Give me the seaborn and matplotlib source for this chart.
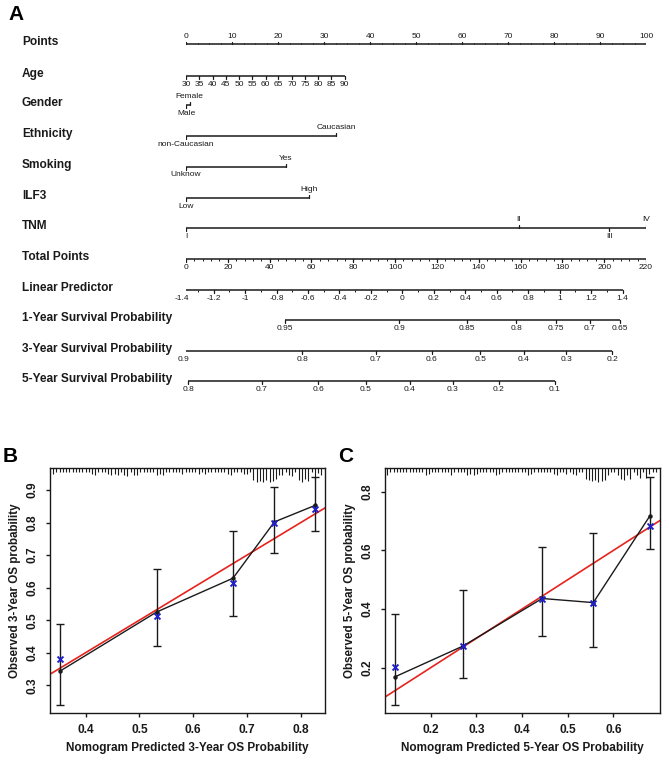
import numpy as np
import matplotlib
matplotlib.use("Agg")
import matplotlib.pyplot as plt
from matplotlib.transforms import blended_transform_factory
import seaborn as sns

# ---------------- panel A: nomogram values ----------------
points_ticks = [0, 10, 20, 30, 40, 50, 60, 70, 80, 90, 100]

age_labels = [30, 35, 40, 45, 50, 55, 60, 65, 70, 75, 80, 85, 90]
age_points = [0, 2.9, 5.8, 8.6, 11.5, 14.4, 17.3, 20.1, 23.0, 25.9, 28.8, 31.6, 34.5]

gender_labels = ["Male", "Female"]
gender_points = [0, 0.8]
ethnicity_labels = ["non-Caucasian", "Caucasian"]
ethnicity_points = [0, 32.6]
smoking_labels = ["Unknow", "Yes"]
smoking_points = [0, 21.7]
ilf3_labels = ["Low", "High"]
ilf3_points = [0, 26.7]
tnm_labels = ["I", "II", "III", "IV"]
tnm_points = [0, 72.3, 92.0, 100]

total_ticks = [0, 20, 40, 60, 80, 100, 120, 140, 160, 180, 200, 220]
lp_labels = ["-1.4", "-1.2", "-1", "-0.8", "-0.6", "-0.4", "-0.2", "0",
             "0.2", "0.4", "0.6", "0.8", "1", "1.2", "1.4"]
lp_total = [-1.9, 13.2, 28.2, 43.3, 58.3, 73.4, 88.4, 103.5,
            118.5, 133.6, 148.6, 163.7, 178.7, 193.8, 208.8]
surv1_labels = ["0.95", "0.9", "0.85", "0.8", "0.75", "0.7", "0.65"]
surv1_total = [47.3, 101.9, 134.3, 158.0, 177.0, 193.2, 207.4]
surv3_labels = ["0.9", "0.8", "0.7", "0.6", "0.5", "0.4", "0.3", "0.2"]
surv3_total = [-1.3, 55.6, 90.7, 117.6, 140.7, 161.6, 181.8, 203.8]
surv5_labels = ["0.8", "0.7", "0.6", "0.5", "0.4", "0.3", "0.2", "0.1"]
surv5_total = [1.0, 36.3, 63.3, 86.1, 107.1, 127.6, 149.5, 176.4]

# ---------------- panels B / C: calibration values ----------------
b_pred = [0.353, 0.532, 0.674, 0.751, 0.827]
b_obs = [0.344, 0.525, 0.629, 0.802, 0.853]
b_corr = [0.382, 0.514, 0.615, 0.798, 0.841]
b_lo = [0.240, 0.420, 0.512, 0.706, 0.773]
b_hi = [0.488, 0.658, 0.773, 0.910, 0.939]

c_pred = [0.122, 0.271, 0.444, 0.556, 0.680]
c_obs = [0.169, 0.274, 0.436, 0.422, 0.718]
c_corr = [0.203, 0.274, 0.435, 0.422, 0.683]
c_lo = [0.074, 0.164, 0.308, 0.271, 0.605]
c_hi = [0.383, 0.465, 0.613, 0.661, 0.849]

# rug of predicted probabilities along the top (x, tick length in px)
b_rug_x = [0.340, 0.346, 0.352, 0.358, 0.364, 0.370, 0.376, 0.382, 0.388, 0.394,
           0.400, 0.406, 0.412, 0.418, 0.424, 0.430, 0.436, 0.442, 0.448, 0.454,
           0.460, 0.466, 0.472, 0.478, 0.484, 0.490, 0.496, 0.502, 0.508, 0.514,
           0.520, 0.526, 0.532, 0.538, 0.544, 0.550, 0.556, 0.562, 0.568, 0.574,
           0.580, 0.586, 0.592, 0.598, 0.604, 0.610, 0.616, 0.622, 0.628, 0.634,
           0.640, 0.646, 0.652, 0.658, 0.664, 0.670, 0.676, 0.682, 0.688, 0.694,
           0.700, 0.706, 0.712, 0.718, 0.724, 0.730, 0.736, 0.742, 0.748, 0.754,
           0.760, 0.766, 0.772, 0.778, 0.784, 0.790, 0.796, 0.802, 0.808, 0.814,
           0.820, 0.826, 0.832, 0.838]
b_rug_h = [6, 4, 4, 4, 4, 4, 4, 4, 4, 4,
           4, 4, 6, 7, 4, 4, 4, 6, 7, 6,
           7, 4, 7, 8, 4, 7, 7, 4, 4, 4,
           4, 4, 7, 6, 7, 4, 4, 4, 4, 4,
           6, 4, 4, 4, 4, 6, 4, 6, 4, 4,
           4, 4, 4, 4, 6, 7, 4, 4, 4, 6,
           6, 4, 12, 14, 13, 14, 12, 14, 13, 11,
           7, 7, 4, 7, 8, 4, 12, 14, 11, 13,
           4, 11, 5, 7]
c_rug_x = [0.105, 0.112, 0.119, 0.126, 0.133, 0.140, 0.147, 0.154, 0.161, 0.168,
           0.175, 0.182, 0.189, 0.196, 0.203, 0.210, 0.217, 0.224, 0.231, 0.238,
           0.245, 0.252, 0.259, 0.266, 0.273, 0.280, 0.287, 0.294, 0.301, 0.308,
           0.315, 0.322, 0.329, 0.336, 0.343, 0.350, 0.357, 0.364, 0.371, 0.378,
           0.385, 0.392, 0.399, 0.406, 0.413, 0.420, 0.427, 0.434, 0.441, 0.448,
           0.455, 0.462, 0.469, 0.476, 0.483, 0.490, 0.497, 0.504, 0.511, 0.518,
           0.525, 0.532, 0.539, 0.546, 0.553, 0.560, 0.567, 0.574, 0.581, 0.588,
           0.595, 0.602, 0.609, 0.616, 0.623, 0.630, 0.637, 0.644, 0.651, 0.658,
           0.665, 0.672, 0.679, 0.686, 0.693]
c_rug_h = [7, 4, 4, 4, 4, 4, 4, 4, 4, 4,
           4, 4, 7, 6, 4, 4, 4, 4, 4, 4,
           7, 4, 4, 4, 4, 7, 6, 7, 6, 4,
           4, 4, 4, 4, 7, 6, 4, 4, 4, 4,
           4, 4, 4, 4, 7, 6, 4, 4, 4, 4,
           4, 4, 6, 7, 4, 4, 6, 4, 6, 7,
           4, 4, 11, 12, 13, 12, 14, 13, 12, 7,
           4, 4, 7, 11, 12, 7, 11, 4, 7, 10,
           4, 10, 6, 4, 4]

W, H = 669, 766
INK = "#1a1a1a"

sns.set_theme(style="ticks")
plt.rcParams['font.family'] = ['Liberation Sans', 'DejaVu Sans']

fig = plt.figure(figsize=(W / 100, H / 100), dpi=100)

# nomogram axes: x in points (0..100), y in pixels from the top
axn = fig.add_axes([186 / W, 1 - 400 / H, 460 / W, 400 / H])
axn.set_xlim(0, 100)
axn.set_ylim(400, 0)
axn.axis("off")
title_tr = blended_transform_factory(fig.transFigure, axn.transData)

TICK_FS = 6.0


def scale_row(y, xs, labels, sides, title, minor=None):
    axn.plot([min(xs), max(xs)], [y, y], color=INK, lw=1.1, solid_capstyle="butt")
    for x, lab, s in zip(xs, labels, sides):
        d = -1 if s == "up" else 1
        axn.plot([x, x], [y, y + d * 2.8], color=INK, lw=0.9)
        axn.text(x, y + d * 8.3, str(lab), ha="center", va="center", fontsize=TICK_FS, color=INK)
    if minor is not None:
        d = -1 if sides[0] == "up" else 1
        axn.vlines(minor, y, y + d * 1.6, color=INK, lw=0.7)
    axn.text(22 / W, y - 2, title, transform=title_tr, ha="left", va="center",
             fontsize=8.6, fontweight="bold", color=INK)


def tp(vals):
    return [v * 100 / 220 for v in vals]


def alt(n):
    return ["down" if i % 2 == 0 else "up" for i in range(n)]


scale_row(44.3, points_ticks, points_ticks, ["up"] * len(points_ticks), "Points",
          minor=np.arange(0, 100.1, 2.5))
scale_row(76, age_points, age_labels, ["down"] * len(age_labels), "Age")
scale_row(105, gender_points, gender_labels, alt(2), "Gender")
scale_row(136, ethnicity_points, ethnicity_labels, alt(2), "Ethnicity")
scale_row(166.7, smoking_points, smoking_labels, alt(2), "Smoking")
scale_row(197.7, ilf3_points, ilf3_labels, alt(2), "ILF3")
scale_row(227.7, tnm_points, tnm_labels, alt(4), "TNM")
scale_row(259.3, tp(total_ticks), total_ticks, ["down"] * len(total_ticks), "Total Points",
          minor=tp(np.arange(0, 221, 4)))
lp_mid = [(a + b) / 2 for a, b in zip(lp_total[:-1], lp_total[1:])]
scale_row(290, tp(lp_total), lp_labels, ["down"] * len(lp_labels), "Linear Predictor",
          minor=tp(lp_mid))
scale_row(320, tp(surv1_total), surv1_labels, ["down"] * len(surv1_labels),
          "1-Year Survival Probability")
scale_row(350.7, tp(surv3_total), surv3_labels, ["down"] * len(surv3_labels),
          "3-Year Survival Probability")
scale_row(381, tp(surv5_total), surv5_labels, ["down"] * len(surv5_labels),
          "5-Year Survival Probability")


# ---------------- calibration panels ----------------
def calib(ax, pred, obs, corr, lo, hi, rug_x, rug_h, xlim, ylim, xt, yt, yr):
    ax.set_xlim(*xlim)
    ax.set_ylim(*ylim)
    ax.axline((0, 0), slope=1, color="#e8221c", lw=1.2, zorder=2)
    yerr = [np.array(obs) - np.array(lo), np.array(hi) - np.array(obs)]
    ax.errorbar(pred, obs, yerr=yerr, fmt="none", ecolor=INK, elinewidth=1.0,
                capsize=2.6, capthick=1.0, zorder=3)
    sns.lineplot(x=pred, y=obs, ax=ax, color=INK, lw=1.0, marker="o", markersize=3.2,
                 markeredgewidth=0, sort=False, zorder=4)
    sns.scatterplot(x=pred, y=corr, ax=ax, color="#1f1fd0", marker="x", s=18,
                    linewidth=1.4, zorder=5)
    axh = 245.6
    ax.vlines(rug_x, 1, 1 - np.array(rug_h) / axh, transform=ax.get_xaxis_transform(),
              color=INK, lw=0.8)
    ax.set_xticks(xt)
    ax.set_yticks(yt)
    ax.set_xticklabels([f"{v:g}" for v in xt])
    ax.set_yticklabels([f"{v:g}" for v in yt], rotation=90, va="center")
    ax.tick_params(direction="out", length=3, width=1, labelsize=8.6, pad=5, colors=INK)
    for lab in ax.get_xticklabels() + ax.get_yticklabels():
        lab.set_fontweight("bold")
    for sp in ax.spines.values():
        sp.set_visible(True)
        sp.set_linewidth(1.0)
        sp.set_color(INK)
    ax.set_xlabel(f"Nomogram Predicted {yr}-Year OS Probability", fontsize=8.5,
                  fontweight="bold", labelpad=4, color=INK)
    ax.set_ylabel(f"Observed {yr}-Year OS probability", fontsize=8.4,
                  fontweight="bold", labelpad=4, color=INK)


axb = fig.add_axes([50 / W, 1 - 713.3 / H, 275 / W, 245.6 / H])
calib(axb, b_pred, b_obs, b_corr, b_lo, b_hi, b_rug_x, b_rug_h,
      (0.334, 0.845), (0.214, 0.9685),
      [0.4, 0.5, 0.6, 0.7, 0.8], [0.3, 0.4, 0.5, 0.6, 0.7, 0.8, 0.9], 3)

axc = fig.add_axes([385 / W, 1 - 713.3 / H, 275 / W, 245.6 / H])
calib(axc, c_pred, c_obs, c_corr, c_lo, c_hi, c_rug_x, c_rug_h,
      (0.100, 0.702), (0.0445, 0.882),
      [0.2, 0.3, 0.4, 0.5, 0.6], [0.2, 0.4, 0.6, 0.8], 5)

for lab, x, y in [("A", 8, 14), ("B", 3, 456), ("C", 338, 456)]:
    fig.text(x / W, 1 - y / H, lab, fontsize=15, fontweight="bold", ha="left",
             va="center", color="black")

fig.savefig("out.png", dpi=100)
